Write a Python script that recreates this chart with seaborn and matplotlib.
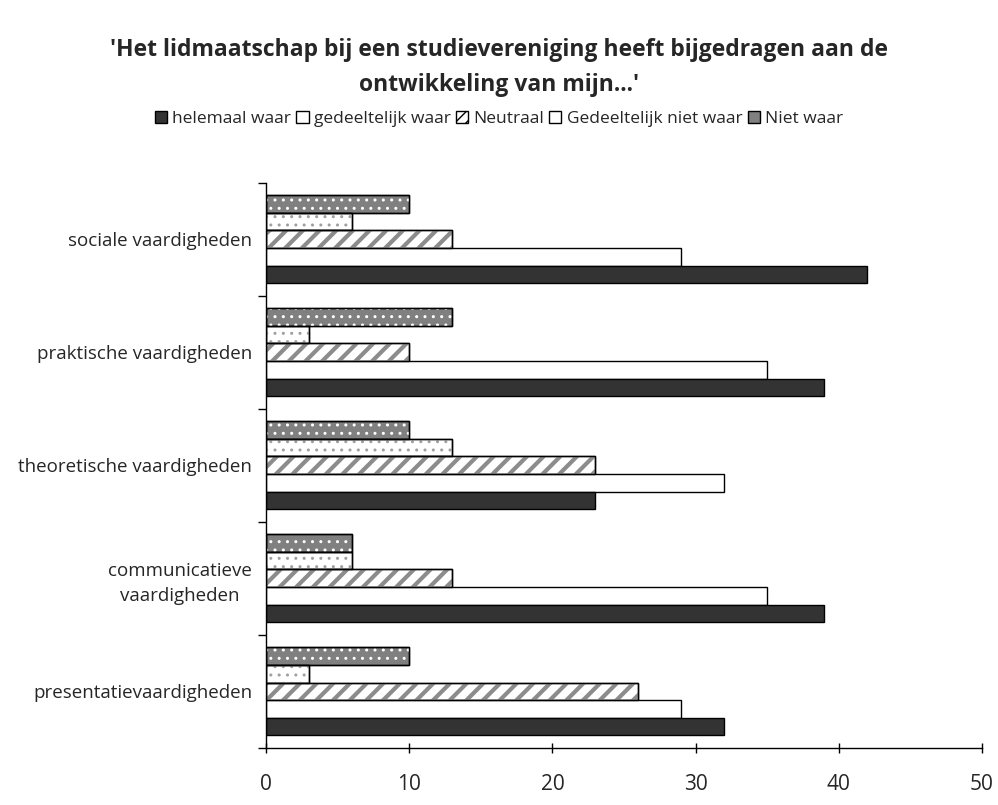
import matplotlib
matplotlib.use("Agg")
import matplotlib.pyplot as plt
from matplotlib.patches import Rectangle, Patch
import seaborn as sns
import pandas as pd

# data (percentages)
categories = ['sociale vaardigheden', 'praktische vaardigheden', 'theoretische vaardigheden',
              'communicatieve\nvaardigheden', 'presentatievaardigheden']
helemaal_waar = [42, 39, 23, 39, 32]
gedeeltelijk_waar = [29, 35, 32, 35, 29]
neutraal = [13, 10, 23, 13, 26]
gedeeltelijk_niet_waar = [6, 3, 13, 6, 3]
niet_waar = [10, 13, 10, 6, 10]

series = {
    'helemaal waar': helemaal_waar,
    'gedeeltelijk waar': gedeeltelijk_waar,
    'Neutraal': neutraal,
    'Gedeeltelijk niet waar': gedeeltelijk_niet_waar,
    'Niet waar': niet_waar,
}
legend_order = list(series.keys())
draw_order = legend_order[::-1]  # top bar in each group first

rows = []
for name, vals in series.items():
    for cat, v in zip(categories, vals):
        rows.append({'categorie': cat, 'antwoord': name, 'waarde': v})
df = pd.DataFrame(rows)

faces = {'helemaal waar': '#333333', 'gedeeltelijk waar': 'white', 'Neutraal': 'white',
         'Gedeeltelijk niet waar': 'white', 'Niet waar': '#808080'}
hatches = {'Neutraal': ('//', '#8c8c8c', 3.0), 'Gedeeltelijk niet waar': ('..', '#a0a0a0', 1.0),
           'Niet waar': ('..', 'white', 1.0)}
legend_hatch = {'Neutraal': '///'}

sns.set_theme(style='white')
plt.rcParams['font.family'] = ['Open Sans', 'DejaVu Sans']

fig = plt.figure(figsize=(9.98, 8.05), dpi=100)
ax = fig.add_axes([0.2665, 0.071, 0.7175, 0.702])

sns.barplot(data=df, x='waarde', y='categorie', hue='antwoord', order=categories,
            hue_order=draw_order, palette=faces, orient='h', width=0.78, gap=0,
            edgecolor='black', linewidth=1.0, legend=False, ax=ax)

# hatch overlays (grey/white patterns inside black outlines)
for name, cont in zip(draw_order, ax.containers):
    if name not in hatches:
        continue
    h, col, lw = hatches[name]
    for bar in cont:
        with plt.rc_context({'hatch.linewidth': lw}):
            hp = Rectangle(bar.get_xy(), bar.get_width(), bar.get_height(), facecolor='none',
                           edgecolor=col, linewidth=0, hatch=h, zorder=bar.get_zorder() + 0.1)
        ax.add_patch(hp)
        ax.add_patch(Rectangle(bar.get_xy(), bar.get_width(), bar.get_height(), fill=False,
                               edgecolor='black', linewidth=1.0, zorder=bar.get_zorder() + 0.2))

ax.set_xlim(0, 50)
ax.set_ylim(len(categories) - 0.5, -0.5)
ax.set_xticks(range(0, 51, 10))
ax.set_xlabel('')
ax.set_ylabel('')
ax.set_yticks([i - 0.5 for i in range(len(categories) + 1)], minor=True)
ax.tick_params(axis='y', which='major', length=0, pad=10, labelsize=13.5)
ax.tick_params(axis='y', which='minor', left=True, length=6, width=1, color='black', direction='out')
ax.tick_params(axis='x', which='major', bottom=True, length=7, width=1, color='black',
               direction='inout', pad=15, labelsize=15)
for lab in ax.get_yticklabels():
    lab.set_multialignment('center')
    lab.set_linespacing(1.5)
for s in ['top', 'right']:
    ax.spines[s].set_visible(False)
for s in ['left', 'bottom']:
    ax.spines[s].set_color('black')
    ax.spines[s].set_linewidth(1.0)

handles = []
for name in legend_order:
    handles.append(Patch(facecolor=faces[name], edgecolor='black',
                         hatch=legend_hatch.get(name), label=name))
fig.legend(handles=handles, loc='center', bbox_to_anchor=(0.5, 0.852), ncol=5, frameon=False,
           fontsize=12.5, handlelength=0.7, handleheight=0.7, handletextpad=0.3,
           columnspacing=0.3)

fig.suptitle("'Het lidmaatschap bij een studievereniging heeft bijgedragen aan de\nontwikkeling van mijn...'",
             x=0.5, y=0.953, fontsize=16.5, fontweight='bold', linespacing=1.6)

fig.savefig('out.png', dpi=100)
